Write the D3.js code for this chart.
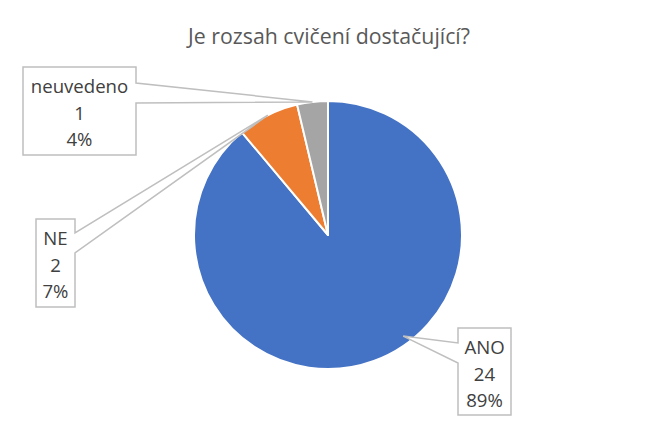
<!DOCTYPE html>
<html><head><meta charset="utf-8">
<script src="https://cdn.jsdelivr.net/npm/d3@7/dist/d3.min.js"></script>
<style>body{margin:0;background:#fff}svg{display:block}</style>
</head><body>
<svg id="c" width="659" height="435"></svg>
<script>
const title = "Je rozsah cvičení dostačující?";
const categories = ["ANO", "NE", "neuvedeno"];
const counts = [24, 2, 1];
const percentLabels = ["89%", "7%", "4%"];
const colors = ["#4472C4", "#ED7D31", "#A5A5A5"];

// label box layout (position of callout boxes)
const boxes = [
  {x: 458, y: 328, w: 53, h: 87, side: "left", a1: 343, a2: 363, angFrac: 0.448, rFrac: 0.94},
  {x: 36, y: 219, w: 39, h: 88, side: "right", a1: 233, a2: 253, angFrac: 0.5, rFrac: 1.0},
  {x: 23, y: 67, w: 113, h: 88, side: "right", a1: 83, a2: 103, angFrac: 0.5, rFrac: 1.0}
];

const svg = d3.select("#c");
const cx = 328, cy = 235, R = 134;

svg.append("text").attr("x", 329).attr("y", 44).attr("text-anchor", "middle")
  .attr("font-family", "'Open Sans', sans-serif").attr("font-size", 21.3)
  .attr("fill", "#595959").text(title);

const data = categories.map((c, i) => ({cat: c, value: counts[i], pct: percentLabels[i], color: colors[i], box: boxes[i]}));
const pie = d3.pie().value(d => d.value).sort(null);
const arcs = pie(data);
const arc = d3.arc().innerRadius(0).outerRadius(R);

const g = svg.append("g").attr("transform", `translate(${cx},${cy})`);
g.selectAll("path").data(arcs).join("path")
  .attr("d", arc).attr("fill", d => d.data.color)
  .attr("stroke", "#fff").attr("stroke-width", 2).attr("stroke-linejoin", "round");

// callouts
arcs.forEach(a => {
  const b = a.data.box;
  const ang = a.startAngle + (a.endAngle - a.startAngle) * b.angFrac;
  const r = R * b.rFrac;
  const px = cx + r * Math.sin(ang), py = cy - r * Math.cos(ang);
  let pts;
  if (b.side === "right") {
    const xr = b.x + b.w;
    pts = [[b.x, b.y], [xr, b.y], [xr, b.a1], [px, py], [xr, b.a2], [xr, b.y + b.h], [b.x, b.y + b.h]];
  } else {
    pts = [[b.x, b.y], [b.x + b.w, b.y], [b.x + b.w, b.y + b.h], [b.x, b.y + b.h], [b.x, b.a2], [px, py], [b.x, b.a1]];
  }
  svg.append("path").attr("d", "M" + pts.map(p => p.join(",")).join("L") + "Z")
    .attr("fill", "#fff").attr("stroke", "#BFBFBF").attr("stroke-width", 1.5).attr("stroke-linejoin", "miter");
  const lines = [a.data.cat, String(a.data.value), a.data.pct];
  lines.forEach((t, i) => {
    svg.append("text").attr("x", b.x + b.w / 2).attr("y", b.y + 26 + i * 26.5)
      .attr("text-anchor", "middle").attr("font-family", "'Open Sans', sans-serif")
      .attr("font-size", 18.6).attr("fill", "#404040").text(t);
  });
});
</script>
</body></html>
